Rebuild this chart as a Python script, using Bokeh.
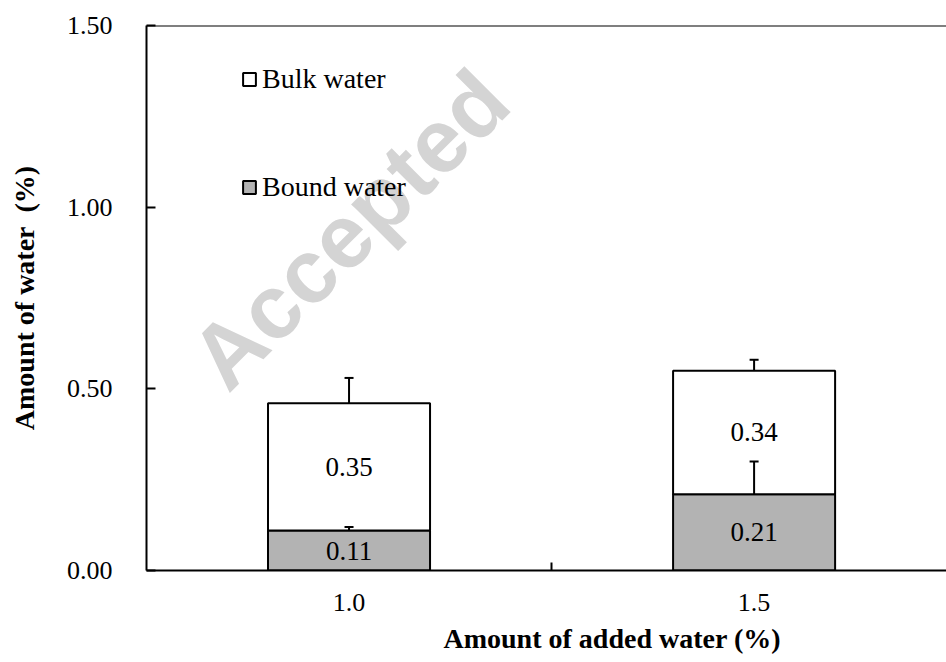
import math
from bokeh.plotting import figure
from bokeh.models import (Range1d, FixedTicker, Whisker, TeeHead, Legend, LegendItem,
                          Label, Span, ColumnDataSource, Title)
from bokeh.core.properties import value
from bokeh.embed import file_html
from bokeh.resources import INLINE

# ---- data ----
categories = ["1.0", "1.5"]
bound_water = [0.11, 0.21]
bulk_water = [0.35, 0.34]
bound_err = [0.01, 0.09]
bulk_err = [0.07, 0.03]
y_ticks = [0.0, 0.5, 1.0, 1.5]
y_tick_labels = ["0.00", "0.50", "1.00", "1.50"]
series_names = ["Bulk water", "Bound water"]
x_title = "Amount of added water (%)"
y_title = "Amount of water\u00a0 (%)"

FONT = "Liberation Serif"
GRAY = "#b3b3b3"

xs = [i + 0.5 for i in range(len(categories))]
tops = [b + w for b, w in zip(bound_water, bulk_water)]

src = ColumnDataSource(dict(
    x=xs, bound=bound_water, top=tops,
    bound_up=[b + e for b, e in zip(bound_water, bound_err)],
    top_up=[t + e for t, e in zip(tops, bulk_err)],
    bound_mid=[b / 2 for b in bound_water],
    bulk_mid=[b + w / 2 for b, w in zip(bound_water, bulk_water)],
    bound_lbl=["%.2f" % v for v in bound_water],
    bulk_lbl=["%.2f" % v for v in bulk_water],
))

p = figure(width=946, height=662, output_backend="svg", toolbar_location=None,
           x_range=Range1d(0, 1.975), y_range=Range1d(0, 1.5),
           min_border_left=146, min_border_right=0, min_border_top=25, min_border_bottom=92)
p.outline_line_color = None
p.xgrid.grid_line_color = None
p.ygrid.grid_line_color = None
p.background_fill_color = "white"
p.border_fill_color = "white"

# watermark
wm = Label(x=0.148, y=0.545, text="Accepted", angle=math.pi / 4,
           text_font="Liberation Sans", text_font_style="bold",
           text_font_size="90px", text_color="#d4d4d4",
           text_align="left", text_baseline="alphabetic", level="underlay")
p.add_layout(wm)

# bars
r_bound = p.vbar(x="x", width=0.4, bottom=0, top="bound", source=src,
                 fill_color=GRAY, line_color="black", line_width=2)
r_bulk = p.vbar(x="x", width=0.4, bottom="bound", top="top", source=src,
                fill_color="white", line_color="black", line_width=2)

# error bars (upper only)
for lo, hi in (("bound", "bound_up"), ("top", "top_up")):
    w = Whisker(source=src, base="x", lower=lo, upper=hi, dimension="height",
                line_color="black", line_width=2, level="annotation",
                upper_head=TeeHead(size=9, line_color="black", line_width=2),
                lower_head=None)
    p.add_layout(w)

# value labels
for ycol, tcol in (("bound_mid", "bound_lbl"), ("bulk_mid", "bulk_lbl")):
    p.text(x="x", y=ycol, text=tcol, source=src, text_align="center",
           text_baseline="middle", text_font=value(FONT), text_font_size="27px",
           text_color="black")

# top frame line
p.add_layout(Span(location=1.5, dimension="width", line_color="black", line_width=2))

# legend
legend = Legend(items=[LegendItem(label=series_names[0], renderers=[r_bulk]),
                       LegendItem(label=series_names[1], renderers=[r_bound])],
                location=(95, 367), spacing=76, padding=0, margin=0,
                glyph_width=16, glyph_height=16, label_standoff=5,
                label_text_font=FONT, label_text_font_size="28px",
                label_text_color="black",
                border_line_color=None, background_fill_alpha=0)
p.add_layout(legend)

# x axis
xa = p.xaxis[0]
xa.ticker = FixedTicker(ticks=xs, minor_ticks=[1.0])
xa.major_label_overrides = {x: c for x, c in zip(xs, categories)}
xa.major_tick_in = 0
xa.major_tick_out = 0
xa.minor_tick_in = 8
xa.minor_tick_out = 0
xa.minor_tick_line_width = 2
xa.minor_tick_line_color = "black"
xa.axis_line_width = 2
xa.axis_line_color = "black"
xa.major_label_standoff = 23
xa.major_label_text_font = FONT
xa.major_label_text_font_size = "26px"
xa.major_label_text_color = "black"

# x axis title (the original's plot area runs on past the right edge,
# so its centred title sits right of this frame's centre)
p.add_layout(Title(text=x_title, align="left", offset=297, standoff=14,
                   text_font=FONT, text_font_size="28px", text_font_style="bold",
                   text_color="black"), "below")

# y axis
ya = p.yaxis[0]
ya.ticker = FixedTicker(ticks=y_ticks)
ya.major_label_overrides = {t: l for t, l in zip(y_ticks, y_tick_labels)}
ya.major_tick_in = 9
ya.major_tick_out = 0
ya.major_tick_line_width = 2
ya.major_tick_line_color = "black"
ya.minor_tick_line_color = None
ya.axis_line_width = 2
ya.axis_line_color = "black"
ya.major_label_standoff = 34
ya.major_label_text_font = FONT
ya.major_label_text_font_size = "26px"
ya.major_label_text_color = "black"
ya.axis_label = y_title
ya.axis_label_text_font = FONT
ya.axis_label_text_font_size = "28px"
ya.axis_label_text_font_style = "bold"
ya.axis_label_text_color = "black"
ya.axis_label_standoff = 24

open("out.html", "w").write(file_html(p, INLINE))
